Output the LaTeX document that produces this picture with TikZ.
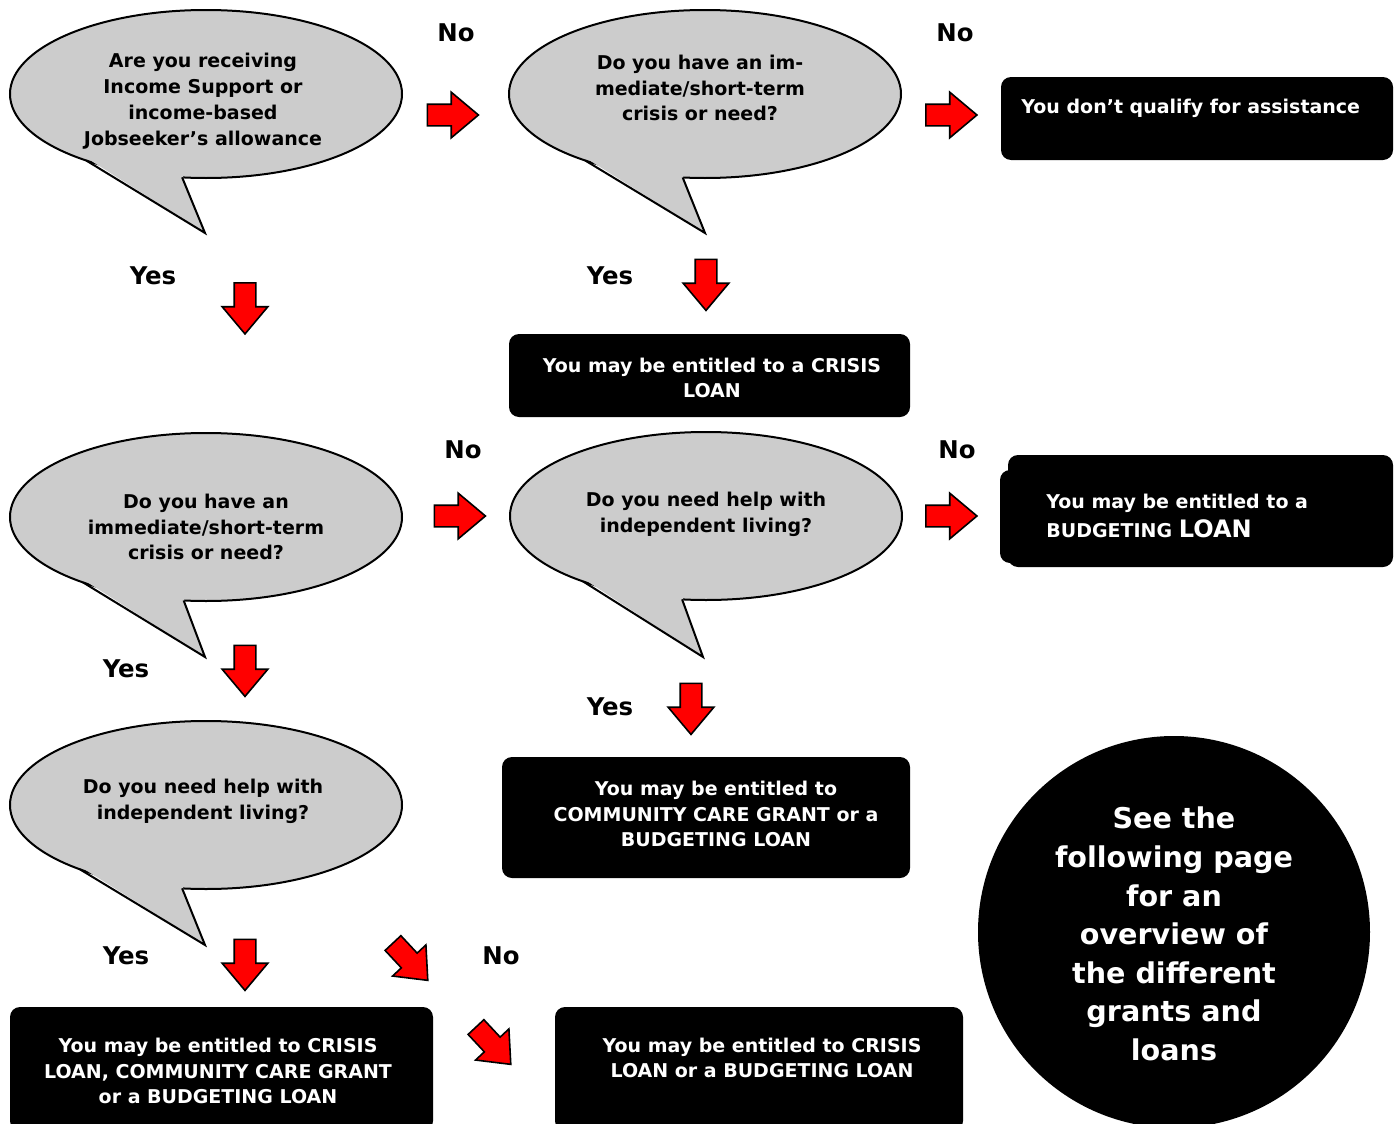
\documentclass[tikz,border=0pt]{standalone}
\usepackage{fontspec}
\setmainfont{DejaVu Sans}
\usepackage{tikz}
\usetikzlibrary{shapes,arrows,positioning,calc}
\usepackage{xcolor}
\definecolor{bubblegray}{RGB}{204,204,204}
\newcommand{\qfont}{\fontsize{9.5}{12.9}\selectfont\bfseries}
\newcommand{\ynfont}{\fontsize{12.2}{15}\selectfont\bfseries}
\newcommand{\cfont}{\fontsize{14.3}{19.3}\selectfont\bfseries}

\begin{document}
\begin{tikzpicture}[x=0.5pt, y=-0.5pt,
    bubble/.style={ellipse, draw, line width=1pt, fill=bubblegray, minimum width=196pt, minimum height=84pt, inner sep=0pt, outer sep=0pt},
    qtext/.style={align=center, font=\qfont, inner sep=0pt},
    box/.style={rectangle, rounded corners=5pt, fill=black, inner sep=0pt},
    btext/.style={align=center, text=white, font=\qfont, inner sep=0pt},
    yn/.style={font=\ynfont},
    barrow/.style={single arrow, draw=black, line width=0.8pt, fill=red, minimum height=25.5pt, inner xsep=0pt, inner ysep=5pt, single arrow head extend=6pt, single arrow tip angle=80},
    tailline/.style={line width=1pt, line join=miter}
]
\useasboundingbox (0,0) rectangle (1399,1124);

% Question bubbles
\node[bubble] (q1) at (206,94) {};
\node[bubble] (q2) at (705,94) {};
\node[bubble] (q3) at (206,517) {};
\node[bubble] (q4) at (706,516) {};
\node[bubble] (q5) at (206,805) {};

% Bubble tails
\coordinate (t1) at (205,233);
\coordinate (t2) at (705,233);
\coordinate (t3) at (205,657);
\coordinate (t4) at (703,657);
\coordinate (t5) at (205,945);
\fill[bubblegray] ($(q1.center)!0.98!(q1.209)$) -- (t1) -- ($(q1.center)!0.98!(q1.254)$) -- cycle;
\draw[tailline] (q1.209) -- (t1) -- (q1.254);
\fill[bubblegray] ($(q2.center)!0.98!(q2.209)$) -- (t2) -- ($(q2.center)!0.98!(q2.255)$) -- cycle;
\draw[tailline] (q2.209) -- (t2) -- (q2.255);
\fill[bubblegray] ($(q3.center)!0.98!(q3.208)$) -- (t3) -- ($(q3.center)!0.98!(q3.255)$) -- cycle;
\draw[tailline] (q3.208) -- (t3) -- (q3.255);
\fill[bubblegray] ($(q4.center)!0.98!(q4.208)$) -- (t4) -- ($(q4.center)!0.98!(q4.254)$) -- cycle;
\draw[tailline] (q4.208) -- (t4) -- (q4.254);
\fill[bubblegray] ($(q5.center)!0.98!(q5.207)$) -- (t5) -- ($(q5.center)!0.98!(q5.254)$) -- cycle;
\draw[tailline] (q5.207) -- (t5) -- (q5.254);

% Bubble texts
\node[qtext] (q1text) at (203,101) {Are you receiving\\Income Support or\\income-based\\Jobseeker’s allowance};
\node[qtext] (q2text) at (700,88) {Do you have an im-\\mediate/short-term\\crisis or need?};
\node[qtext] (q3text) at (206,527) {Do you have an\\immediate/short-term\\crisis or need?};
\node[qtext] (q4text) at (706,514) {Do you need help with\\independent living?};
\node[qtext] (q5text) at (203,801) {Do you need help with\\independent living?};

% Answer boxes
\node[box, minimum width=196pt, minimum height=41.5pt] (r1) at (1197,118.5) {};
\node[box, minimum width=200.5pt, minimum height=41.5pt] (r2) at (709.5,375.5) {};
\node[box, minimum width=194pt, minimum height=46.5pt] (r3b) at (1194,516.5) {};
\node[box, minimum width=192.5pt, minimum height=56pt] (r3) at (1200.5,511) {};
\node[box, minimum width=204pt, minimum height=60.5pt] (r4) at (706,817.5) {};
\node[box, minimum width=211.5pt, minimum height=62pt] (r5) at (221.5,1069) {};
\node[box, minimum width=204pt, minimum height=62pt] (r6) at (759,1069) {};
\node[circle, fill=black, minimum size=196pt, inner sep=0pt] (c1) at (1174,932) {};

% Box texts
\node[btext, anchor=west] (r1text) at (1021,108) {You don’t qualify for assistance};
\node[btext] (r2text) at (712,378) {You may be entitled to a CRISIS\\LOAN};
\node[btext, align=left, anchor=west] (r3text) at (1046,516) {You may be entitled to a\\[1.5pt]BUDGETING {\fontsize{12}{14}\selectfont LOAN}};
\node[btext] (r4text) at (716,814) {You may be entitled to\\COMMUNITY CARE GRANT or a\\BUDGETING LOAN};
\node[btext] (r5text) at (218,1071) {You may be entitled to CRISIS\\LOAN, COMMUNITY CARE GRANT\\or a BUDGETING LOAN};
\node[btext] (r6text) at (762,1058) {You may be entitled to CRISIS\\LOAN or a BUDGETING LOAN};
\node[btext, font=\cfont] (c1text) at (1174,934) {See the\\following page\\for an\\overview of\\the different\\grants and\\loans};

% Block arrows
\node[barrow] (a1) at (446.5,115) {};
\node[barrow] (a2) at (945,115) {};
\node[barrow] (a3) at (453.5,516) {};
\node[barrow] (a4) at (945,516) {};
\node[barrow, rotate=-90] (d1) at (245,302) {};
\node[barrow, rotate=-90] (d2) at (706,278.5) {};
\node[barrow, rotate=-90] (d3) at (245,664.5) {};
\node[barrow, rotate=-90] (d4) at (691,702.5) {};
\node[barrow, rotate=-90] (d5) at (245,958.5) {};
\node[barrow, rotate=-47] (e1) at (406,957) {};
\node[barrow, rotate=-47] (e2) at (489,1041) {};

% Yes / No labels
\node[yn] (no1) at (456,33) {No};
\node[yn] (no2) at (955,33) {No};
\node[yn] (yes1) at (153,276) {Yes};
\node[yn] (yes2) at (610,276) {Yes};
\node[yn] (no3) at (463,450) {No};
\node[yn] (no4) at (957,450) {No};
\node[yn] (yes3) at (126,669) {Yes};
\node[yn] (yes4) at (610,707) {Yes};
\node[yn] (yes5) at (126,956) {Yes};
\node[yn] (no5) at (501,956) {No};

\end{tikzpicture}
\end{document}
